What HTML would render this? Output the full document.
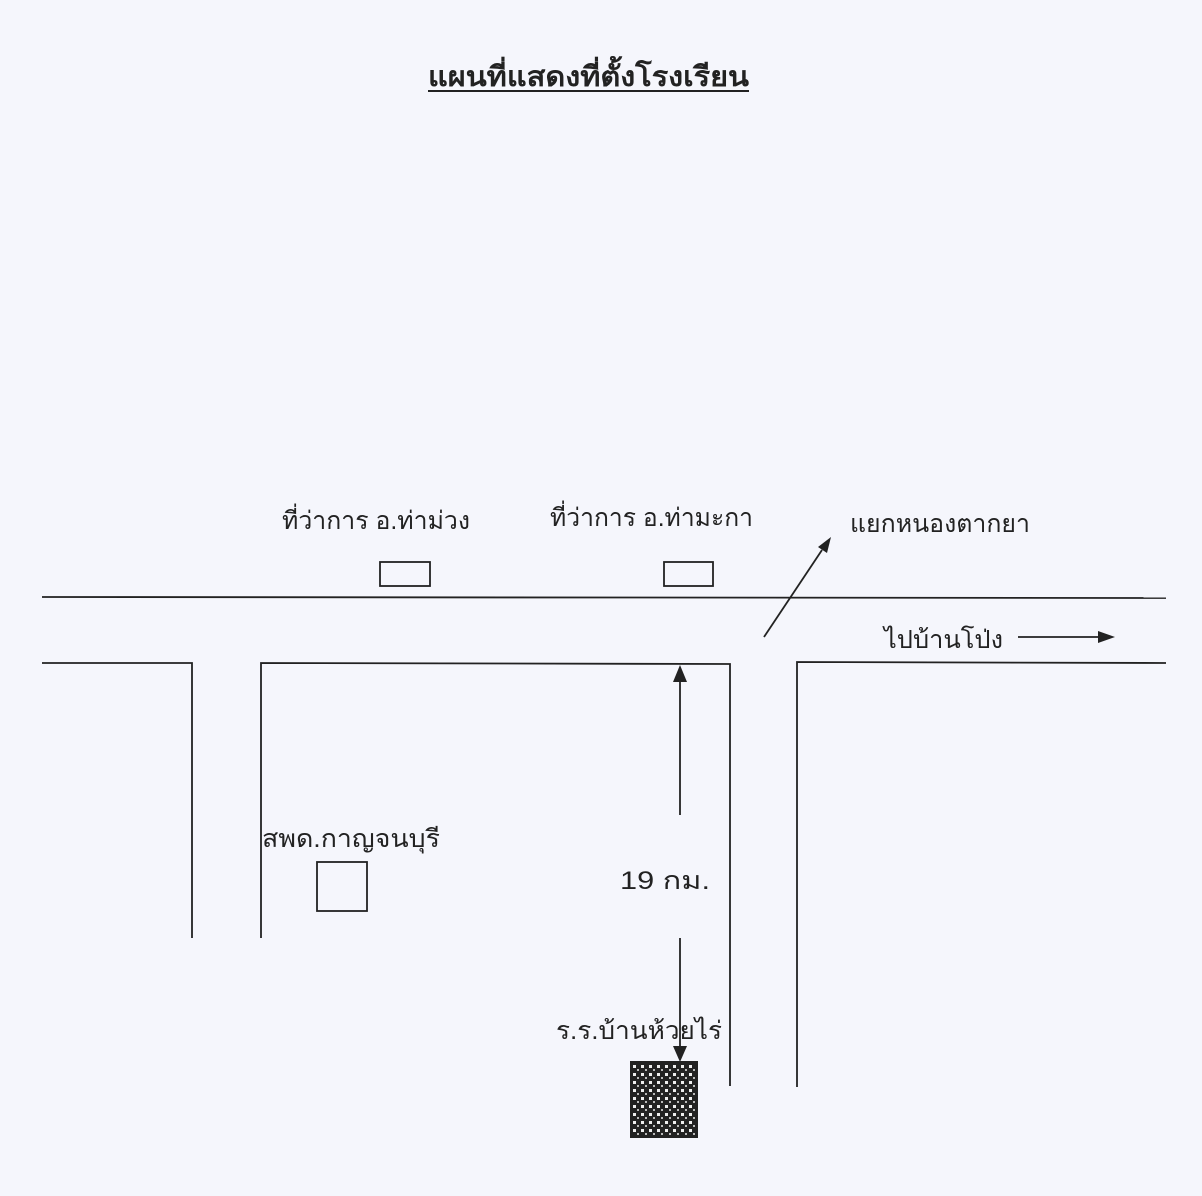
<!DOCTYPE html>
<html><head><meta charset="utf-8"><style>
html,body{margin:0;padding:0;background:#f5f6fc;}
svg{display:block}
text{font-family:"Liberation Sans","DejaVu Sans",sans-serif;fill:#222;}
</style></head><body>
<svg width="1202" height="1196" viewBox="0 0 1202 1196" xmlns="http://www.w3.org/2000/svg">
<defs>
<pattern id="chk" width="8" height="8" patternUnits="userSpaceOnUse">
<rect width="8" height="8" fill="#222"/>
<rect x="1" y="1" width="3" height="3" fill="#eee"/>
<rect x="5" y="5" width="2" height="2" fill="#bbb"/>
</pattern>
</defs>
<rect width="1202" height="1196" fill="#f5f6fc"/>
<text x="428" y="86" font-size="28" font-weight="bold" textLength="321" lengthAdjust="spacingAndGlyphs">แผนที่แสดงที่ตั้งโรงเรียน</text>
<line x1="428" y1="91" x2="749" y2="91" stroke="#222" stroke-width="2"/>
<g stroke="#222" stroke-width="1.8" fill="none">
<line x1="42" y1="597" x2="1166" y2="598"/>
<polyline points="42,663 192,663 192,938"/>
<polyline points="261,938 261,663 730,664 730,1086"/>
<polyline points="797,1087 797,662 1166,663"/>
<rect x="380" y="562" width="50" height="24"/>
<rect x="664" y="562" width="49" height="24"/>
<rect x="317" y="862" width="50" height="49"/>
<line x1="680" y1="815" x2="680" y2="680"/>
<line x1="680" y1="938" x2="680" y2="1048"/>
<line x1="764" y1="637" x2="822" y2="550"/>
<line x1="1018" y1="637" x2="1100" y2="637"/>
</g>
<g fill="#222">
<polygon points="680,665 673,682 687,682"/>
<polygon points="680,1062 673,1046 687,1046"/>
<polygon points="831,537 818,547 827,553"/>
<polygon points="1115,637 1098,631 1098,643"/>
</g>
<rect x="631" y="1062" width="66" height="75" fill="url(#chk)" stroke="#222" stroke-width="2"/>
<g font-size="25" lengthAdjust="spacingAndGlyphs">
<text x="282" y="529" textLength="188" lengthAdjust="spacingAndGlyphs">ที่ว่าการ อ.ท่าม่วง</text>
<text x="550" y="526" textLength="203" lengthAdjust="spacingAndGlyphs">ที่ว่าการ อ.ท่ามะกา</text>
<text x="850" y="532" textLength="180" lengthAdjust="spacingAndGlyphs">แยกหนองตากยา</text>
<text x="884" y="648" textLength="119" lengthAdjust="spacingAndGlyphs">ไปบ้านโป่ง</text>
<text x="262" y="847" textLength="178" lengthAdjust="spacingAndGlyphs">สพด.กาญจนบุรี</text>
<text x="620" y="889" textLength="90" lengthAdjust="spacingAndGlyphs">19  กม.</text>
<text x="556" y="1039" textLength="166" lengthAdjust="spacingAndGlyphs">ร.ร.บ้านห้วยไร่</text>
</g>
</svg>
</body></html>
